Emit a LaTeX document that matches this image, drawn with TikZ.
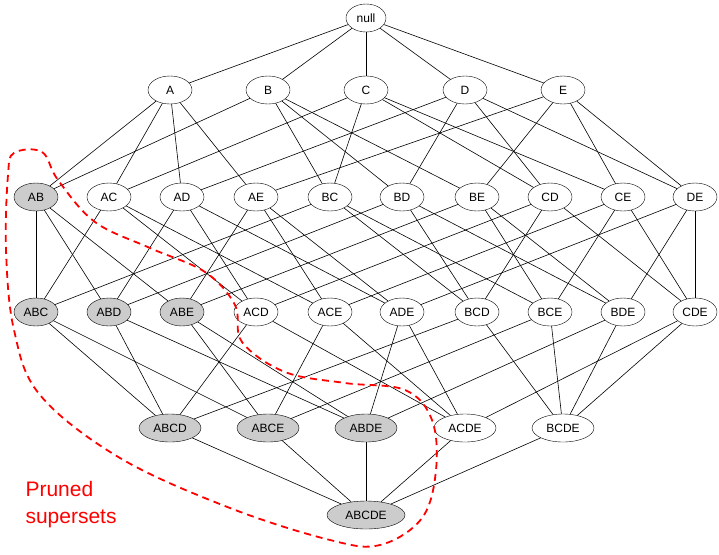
\documentclass[tikz,border=0pt]{standalone}
\usepackage{fontspec}
\setmainfont{Liberation Sans}
\usetikzlibrary{shapes.geometric}
\begin{document}
\begin{tikzpicture}[x=1pt,y=-1pt,
  n/.style={ellipse,draw,fill=white,minimum width=44pt,minimum height=28pt,inner sep=0pt,font=\fontsize{12}{14}\selectfont},
  p/.style={n,fill=black!20},
  e/.style={line width=0.6pt}]
\useasboundingbox (0,0) rectangle (719,554);
\node[n,minimum width=40pt] (null) at (366,18) {null};
\foreach \s/\x in {A/170,B/268,C/366,D/465,E/563} \node[n] (\s) at (\x,90) {\s};
\foreach \s/\x/\st in {AB/36/p,AC/109/n,AD/182/n,AE/256/n,BC/330/n,BD/402/n,BE/477/n,CD/550/n,CE/623/n,DE/695/n}
  \node[\st] (\s) at (\x,197) {\s};
\foreach \s/\x/\st in {ABC/36/p,ABD/109/p,ABE/182/p,ACD/256/n,ACE/330/n,ADE/402/n,BCD/477/n,BCE/550/n,BDE/623/n,CDE/695/n}
  \node[\st] (\s) at (\x,312) {\s};
\foreach \s/\x/\st in {ABCD/170/p,ABCE/268/p,ABDE/366/p,ACDE/465/n,BCDE/563/n}
  \node[\st,minimum width=62pt] (\s) at (\x,428) {\s};
\node[p,minimum width=78pt] (ABCDE) at (366,515) {ABCDE};
\foreach \p/\cs in {A/{null},B/{null},C/{null},D/{null},E/{null},
  AB/{A,B},AC/{A,C},AD/{A,D},AE/{A,E},BC/{B,C},BD/{B,D},BE/{B,E},CD/{C,D},CE/{C,E},DE/{D,E},
  ABC/{AB,AC,BC},ABD/{AB,AD,BD},ABE/{AB,AE,BE},ACD/{AC,AD,CD},ACE/{AC,AE,CE},ADE/{AD,AE,DE},
  BCD/{BC,BD,CD},BCE/{BC,BE,CE},BDE/{BD,BE,DE},CDE/{CD,CE,DE},
  ABCD/{ABC,ABD,ACD,BCD},ABCE/{ABC,ABE,ACE,BCE},ABDE/{ABD,ABE,ADE,BDE},ACDE/{ACD,ACE,ADE,CDE},BCDE/{BCD,BCE,BDE,CDE},
  ABCDE/{ABCD,ABCE,ABDE,ACDE,BCDE}}
  \foreach \c in \cs \draw[e] (\p) -- (\c);
\draw[red,line width=1.8pt,dash pattern=on 7pt off 5pt] plot[smooth cycle,tension=0.6] coordinates{
 (14,153) (42,152) (58,180) (95,222) (150,248) (205,272) (235,305) (242,342) (285,372) (345,383) (405,390) (432,420) (436,470) (422,518) (380,545) (330,540) (230,508) (120,458) (40,395) (14,330) (6,250) (8,175)};
\node[red,align=left,anchor=west,font=\fontsize{21}{27}\selectfont] (lab) at (22,505) {Pruned\\supersets};
\end{tikzpicture}
\end{document}
